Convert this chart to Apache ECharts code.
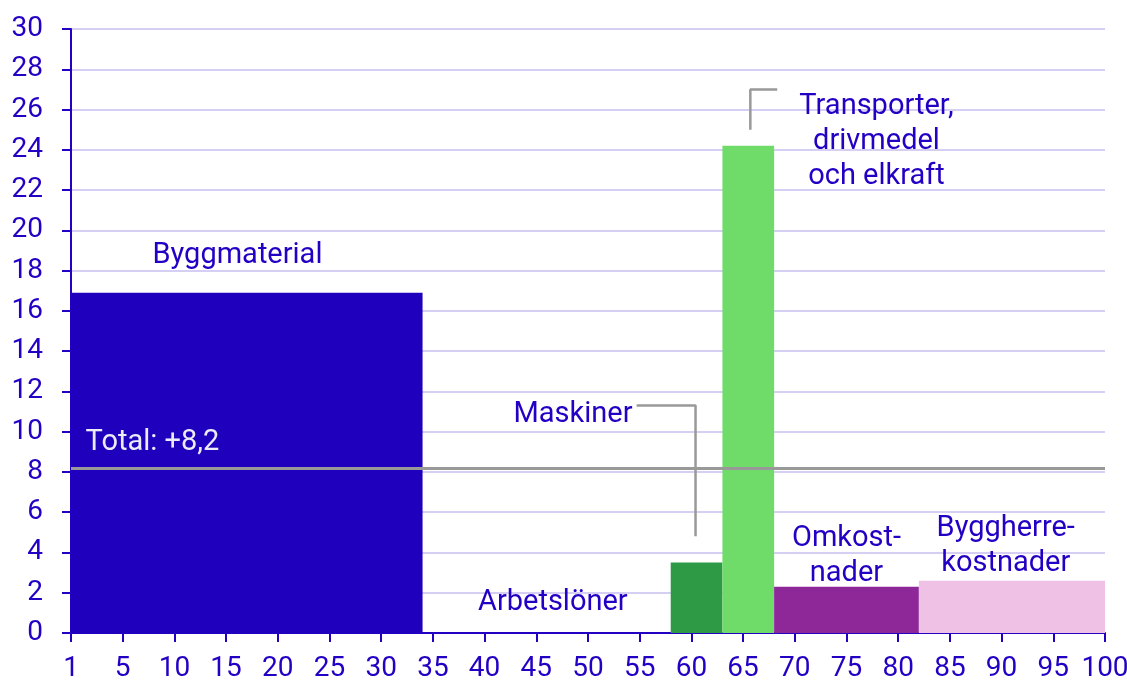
<!DOCTYPE html>
<html>
<head>
<meta charset="utf-8">
<script src="https://cdn.jsdelivr.net/npm/echarts@6/dist/echarts.min.js"></script>
<style>
  html, body { margin: 0; padding: 0; background: #fff; }
  #chart { width: 1127px; height: 682px; }
</style>
</head>
<body>
<div id="chart"></div>
<script>
// segments: start / end share of the weight, and the price change
const groups = ["Byggmaterial", "Arbetslöner", "Maskiner", "Transporter, drivmedel och elkraft", "Omkostnader", "Byggherrekostnader"];
const segStart = [0, 34, 58, 63, 68, 82];
const segEnd = [34, 58, 63, 68, 82, 100];
const change = [16.9, 0.0, 3.5, 24.2, 2.3, 2.6];
const total = 8.2;

const xTicks = [1, 5, 10, 15, 20, 25, 30, 35, 40, 45, 50, 55, 60, 65, 70, 75, 80, 85, 90, 95, 100];

// annotation text and where it sits (data coords)
const noteText = ["Byggmaterial", "Total: +8,2", "Maskiner", "Transporter,\ndrivmedel\noch elkraft", "Arbetslöner", "Omkost-\nnader", "Byggherre-\nkostnader"];
const noteX = [16.1, 1.4, 54.3, 77.9, 46.6, 75.0, 90.4];
const noteY = [18.75, 9.45, 10.85, 24.4, 1.5, 3.8, 4.3];

// leader lines
const leaderMaskiner = [[54.7, 11.3], [60.4, 11.3], [60.4, 4.8]];
const leaderTransport = [[68.3, 27.0], [65.7, 27.0], [65.7, 25.0]];

const palette = ["#1f00bd", "#1f00bd", "#2f9a45", "#6fdc6a", "#8e2899", "#efc2e5"];
const textColor = "#2300c4";

const chart = echarts.init(document.getElementById("chart"));

const barData = groups.map((g, i) => [segStart[i], segEnd[i], change[i]]);
const noteData = noteText.map((t, i) => [noteX[i], noteY[i], i]);

const option = {
    animation: false,
    textStyle: { fontFamily: "Roboto" },
    grid: { left: 71, right: 22, top: 29, bottom: 49, outerBoundsMode: "none", containLabel: false },
    xAxis: {
        type: "value",
        min: 0,
        max: 100,
        interval: 5,
        axisLine: { show: true, lineStyle: { color: textColor, width: 2 } },
        axisTick: { show: true, length: 9, lineStyle: { color: textColor, width: 2 } },
        splitLine: { show: false },
        axisLabel: {
            color: textColor,
            fontSize: 28,
            margin: 22,
            formatter: v => v === 0 ? String(xTicks[0]) : String(v)
        }
    },
    yAxis: {
        type: "value",
        min: 0,
        max: 30,
        interval: 2,
        axisLine: { show: true, lineStyle: { color: textColor, width: 2 } },
        axisTick: { show: true, length: 9, lineStyle: { color: textColor, width: 2 } },
        splitLine: { show: true, lineStyle: { color: "#d5d0f3", width: 2 } },
        axisLabel: { color: textColor, fontSize: 28, margin: 28 }
    },
    series: [
        {
            type: "custom",
            data: barData,
            z: 2,
            renderItem: function (params, api) {
                const p0 = api.coord([api.value(0), api.value(2)]);
                const p1 = api.coord([api.value(1), 0]);
                return {
                    type: "rect",
                    shape: { x: p0[0], y: p0[1], width: p1[0] - p0[0], height: p1[1] - p0[1] },
                    style: { fill: palette[params.dataIndex] }
                };
            },
            markLine: {
                silent: true,
                symbol: "none",
                label: { show: false },
                lineStyle: { color: "#999999", width: 3, type: "solid" },
                data: [{ yAxis: total }],
                z: 5
            }
        },
        {
            type: "line",
            data: leaderMaskiner,
            symbol: "none",
            z: 6,
            lineStyle: { color: "#999999", width: 2.5 }
        },
        {
            type: "line",
            data: leaderTransport,
            symbol: "none",
            z: 6,
            lineStyle: { color: "#999999", width: 2.5 }
        },
        {
            type: "custom",
            data: noteData,
            z: 10,
            renderItem: function (params, api) {
                const i = api.value(2);
                const p = api.coord([api.value(0), api.value(1)]);
                let align = "center";
                if (i === 1) align = "left";
                if (i === 2) align = "right";
                return {
                    type: "text",
                    x: p[0],
                    y: p[1],
                    style: {
                        text: noteText[i],
                        fill: i === 1 ? "#ececf8" : textColor,
                        font: "29px Roboto",
                        align: align,
                        verticalAlign: "middle",
                        lineHeight: 35
                    }
                };
            }
        }
    ]
};

chart.setOption(option);
</script>
</body>
</html>
